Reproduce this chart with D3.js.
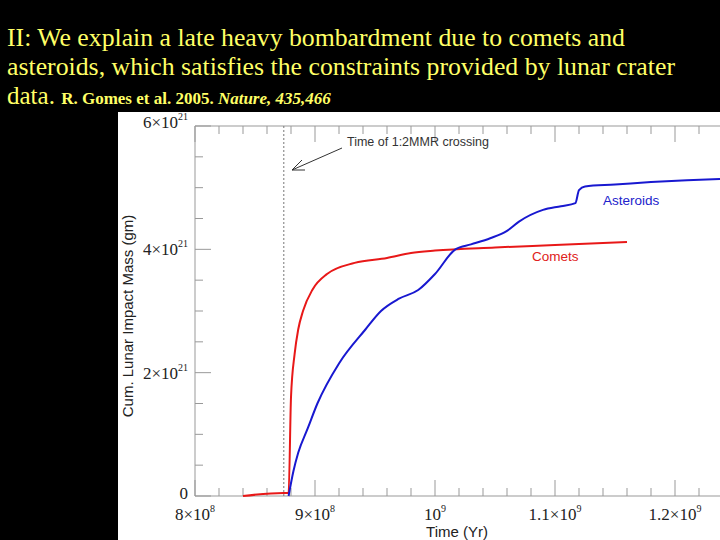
<!DOCTYPE html><html><head><meta charset="utf-8"><script src="https://d3js.org/d3.v7.min.js"></script>
<style>body{margin:0;background:#000}svg{display:block}</style></head><body><svg id="c" width="720" height="540"></svg>
<script>
const xTicks=[8e8,9e8,1e9,1.1e9,1.2e9];
const xTickLabels=[["8×10","8"],["9×10","8"],["10","9"],["1.1×10","9"],["1.2×10","9"]];
const yTicks=[0,2,4,6];
const yTickLabels=[["0",""],["2×10","21"],["4×10","21"],["6×10","21"]];
const cometT=[8.4e8,8.74e8,8.78e8,8.80e8,8.83e8,8.86e8,8.9e8,8.98e8,9.1e8,9.33e8,9.6e8,9.8e8,1.0e9,1.05e9,1.1e9,1.16e9];
const cometM=[0,0.05,0.05,1.6,2.3,2.7,3.0,3.35,3.6,3.78,3.86,3.94,3.98,4.03,4.07,4.12];
const astT=[8.78e8,8.82e8,8.86e8,8.94e8,9.02e8,9.2e8,9.42e8,9.55e8,9.7e8,9.86e8,1.0e9,1.017e9,1.03e9,1.046e9,1.06e9,1.07e9,1.09e9,1.105e9,1.117e9,1.12e9,1.125e9,1.15e9,1.18e9,1.21e9,1.2375e9];
const astM=[0,0.4,0.7,1.1,1.5,2.15,2.7,3.0,3.2,3.34,3.6,4.0,4.08,4.18,4.3,4.45,4.64,4.7,4.75,4.96,5.02,5.05,5.09,5.12,5.14];
const svg=d3.select("#c");
const tf="Liberation Serif,Times New Roman,serif";
const t1=svg.append("text").attr("font-family",tf).attr("fill","#ffff66").attr("font-size",25);
t1.append("tspan").attr("x",7).attr("y",46).attr("textLength",618).attr("lengthAdjust","spacingAndGlyphs").text("II: We explain a late heavy bombardment due to comets and");
t1.append("tspan").attr("x",7).attr("y",75).attr("textLength",668).attr("lengthAdjust","spacingAndGlyphs").text("asteroids, which satisfies the constraints provided by lunar crater");
const l3=svg.append("text").attr("font-family",tf).attr("fill","#ffff66").attr("font-size",25).attr("x",7).attr("y",104);
l3.append("tspan").text("data. ");
l3.append("tspan").attr("font-size",17).attr("font-weight","bold").text("R. Gomes et al.  2005.  ");
l3.append("tspan").attr("font-size",17).attr("font-weight","bold").attr("font-style","italic").text("Nature, 435,466");
svg.append("rect").attr("x",118).attr("y",112).attr("width",602).attr("height",428).attr("fill","#fff");
const x=d3.scaleLinear().domain([8e8,1.2375e9]).range([195,720]);
const y=d3.scaleLinear().domain([0,6]).range([496,126]);
const g=svg.append("g");
const ax="#999";
g.append("line").attr("x1",195).attr("x2",720).attr("y1",496).attr("y2",496).attr("stroke",ax);
g.append("line").attr("x1",195).attr("x2",720).attr("y1",126).attr("y2",126).attr("stroke",ax);
g.append("line").attr("x1",195).attr("x2",195).attr("y1",126).attr("y2",496).attr("stroke",ax);
const minX=d3.range(0,22).map(i=>8e8+i*2e7);
minX.forEach((v,i)=>{const big=i%5==0;const L=big?16:8;
 g.append("line").attr("x1",x(v)).attr("x2",x(v)).attr("y1",496).attr("y2",496-L).attr("stroke",ax);
 g.append("line").attr("x1",x(v)).attr("x2",x(v)).attr("y1",126).attr("y2",126+L).attr("stroke",ax);});
d3.range(0,13).forEach(i=>{const v=i*0.5;const L=i%4==0?16:8;
 g.append("line").attr("x1",195).attr("x2",195+L).attr("y1",y(v)).attr("y2",y(v)).attr("stroke",ax);});
const lf="Liberation Serif,serif";
xTicks.forEach((v,i)=>{const tx=g.append("text").attr("x",x(v)).attr("y",520).attr("text-anchor","middle").attr("font-family",lf).attr("font-size",17).attr("fill","#222");
 tx.append("tspan").text(xTickLabels[i][0]);tx.append("tspan").attr("dy",-8).attr("font-size",10).text(xTickLabels[i][1]);});
yTicks.forEach((v,i)=>{const tx=g.append("text").attr("x",188).attr("y",y(v)+(v==6?2:(v==0?3:6))).attr("text-anchor","end").attr("font-family",lf).attr("font-size",17).attr("fill","#222");
 tx.append("tspan").text(yTickLabels[i][0]);if(yTickLabels[i][1]){tx.append("tspan").attr("dy",-8).attr("font-size",10).text(yTickLabels[i][1]);}});
g.append("text").attr("x",457).attr("y",537).attr("text-anchor","middle").attr("font-family","Liberation Sans,Arial,sans-serif").attr("font-size",15).attr("fill","#222").text("Time (Yr)");
g.append("text").attr("transform","translate(133,316) rotate(-90)").attr("text-anchor","middle").attr("font-family","Liberation Sans,Arial,sans-serif").attr("font-size",15).attr("fill","#222").text("Cum. Lunar Impact Mass (gm)");
g.append("line").attr("x1",x(8.74e8)).attr("x2",x(8.74e8)).attr("y1",126).attr("y2",496).attr("stroke","#777").attr("stroke-dasharray","2,2");
g.append("text").attr("x",347).attr("y",146).attr("font-family","Liberation Sans,Arial,sans-serif").attr("font-size",12.5).attr("fill","#333").text("Time of 1:2MMR crossing");
g.append("line").attr("x1",342).attr("y1",148).attr("x2",292).attr("y2",170).attr("stroke","#333");
g.append("path").attr("d","M292,170 L302,160 M292,170 L305,170").attr("stroke","#333").attr("fill","none");
const line=d3.line().x(d=>x(d[0])).y(d=>y(d[1])).curve(d3.curveMonotoneX);
g.append("path").datum(cometT.map((v,i)=>[v,cometM[i]])).attr("d",line).attr("fill","none").attr("stroke","#e81818").attr("stroke-width",2);
g.append("path").datum(astT.map((v,i)=>[v,astM[i]])).attr("d",line).attr("fill","none").attr("stroke","#1818d0").attr("stroke-width",2);
g.append("text").attr("x",603).attr("y",205).attr("font-family","Liberation Sans,Arial,sans-serif").attr("font-size",13.5).attr("fill","#2222cc").text("Asteroids");
g.append("text").attr("x",532).attr("y",261).attr("font-family","Liberation Sans,Arial,sans-serif").attr("font-size",13.5).attr("fill","#e02020").text("Comets");
</script></body></html>
